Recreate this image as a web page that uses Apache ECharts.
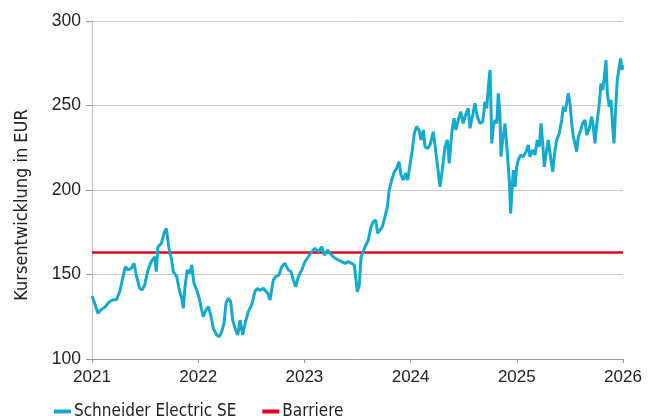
<!DOCTYPE html>
<html>
<head>
<meta charset="utf-8">
<script src="https://cdn.jsdelivr.net/npm/echarts@6/dist/echarts.min.js"></script>
<style>
html,body{margin:0;padding:0;background:#fff;}
#chart{width:657px;height:416px;}
</style>
</head>
<body>
<div id="chart"></div>
<script>
// Decimal years of the sampled points
var years = [
2021.000,2021.025,2021.056,2021.082,2021.120,2021.167,2021.198,2021.229,2021.261,2021.292,
2021.314,2021.339,2021.370,2021.395,2021.417,2021.449,2021.471,2021.496,2021.527,2021.558,
2021.590,2021.605,2021.621,2021.653,2021.678,2021.700,2021.722,2021.747,2021.766,2021.798,
2021.822,2021.845,2021.860,2021.876,2021.897,2021.923,2021.939,2021.960,2021.986,2022.010,
2022.033,2022.048,2022.073,2022.095,2022.118,2022.142,2022.174,2022.199,2022.221,2022.243,
2022.262,2022.283,2022.306,2022.325,2022.347,2022.372,2022.394,2022.419,2022.441,2022.472,
2022.504,2022.535,2022.557,2022.582,2022.613,2022.654,2022.676,2022.707,2022.730,2022.761,
2022.786,2022.817,2022.848,2022.874,2022.895,2022.918,2022.943,2022.975,2023.006,2023.037,
2023.069,2023.100,2023.131,2023.163,2023.187,2023.219,2023.257,2023.288,2023.319,2023.351,
2023.382,2023.413,2023.445,2023.470,2023.486,2023.498,2023.517,2023.533,2023.555,2023.571,
2023.602,2023.627,2023.649,2023.671,2023.690,2023.712,2023.734,2023.759,2023.781,2023.799,
2023.822,2023.847,2023.869,2023.891,2023.910,2023.931,2023.954,2023.973,2023.994,2024.016,
2024.035,2024.057,2024.079,2024.098,2024.120,2024.136,2024.161,2024.183,2024.214,2024.239,
2024.251,2024.277,2024.302,2024.324,2024.346,2024.364,2024.387,2024.409,2024.427,2024.449,
2024.472,2024.496,2024.522,2024.543,2024.559,2024.585,2024.606,2024.628,2024.653,2024.679,
2024.701,2024.717,2024.732,2024.748,2024.757,2024.764,2024.779,2024.795,2024.811,2024.826,
2024.842,2024.851,2024.867,2024.889,2024.911,2024.929,2024.942,2024.955,2024.967,2024.983,
2024.999,2025.014,2025.037,2025.061,2025.087,2025.108,2025.124,2025.150,2025.171,2025.193,
2025.212,2025.228,2025.244,2025.259,2025.281,2025.297,2025.313,2025.338,2025.360,2025.376,
2025.400,2025.423,2025.438,2025.454,2025.470,2025.485,2025.501,2025.517,2025.532,2025.548,
2025.564,2025.579,2025.602,2025.620,2025.642,2025.658,2025.683,2025.705,2025.720,2025.736,
2025.752,2025.774,2025.793,2025.809,2025.821,2025.840,2025.852,2025.871,2025.887,2025.903,
2025.915,2025.927,2025.946,2025.965,2025.978,2025.991,2025.998
];
// Schneider Electric SE price in EUR
var prices = [
137.3,133.0,127.0,129.0,130.6,134.0,135.0,135.0,139.8,148.7,
154.6,152.7,153.7,156.6,149.7,141.8,140.8,143.8,152.7,157.6,
160.5,151.7,166.4,168.4,174.4,177.3,166.4,159.6,151.7,148.7,
140.8,135.9,130.0,142.8,152.7,150.7,155.6,144.8,140.8,135.9,
129.0,125.0,129.0,131.0,126.0,118.2,114.2,113.2,116.2,121.1,
133.0,135.9,133.9,123.0,118.2,114.2,123.0,114.2,121.0,128.0,
132.0,140.0,141.8,140.5,141.8,138.9,134.9,146.7,148.7,149.7,
154.6,156.6,152.7,151.7,146.7,142.8,148.7,152.7,157.6,160.5,
163.5,165.5,163.5,166.4,161.5,164.5,161.5,159.6,158.6,157.6,
156.6,157.6,156.6,155.6,146.7,139.8,143.8,160.5,163.5,166.4,
170.4,178.3,181.2,182.2,174.4,176.3,178.3,184.2,190.1,200.0,
205.9,210.8,212.8,216.7,208.9,205.9,209.9,205.9,214.8,223.7,
233.6,237.5,235.5,229.6,235.5,225.6,224.6,226.6,234.5,221.7,
215.8,201.9,213.7,225.6,229.6,215.8,233.6,242.4,235.5,241.4,
246.3,239.4,245.3,248.3,236.5,244.4,251.3,243.4,239.4,240.4,
252.3,248.3,261.1,271.0,249.3,227.6,237.5,241.4,239.4,257.2,
243.4,219.7,229.6,239.4,221.7,205.9,186.2,200.0,211.8,201.9,
213.7,217.8,220.7,219.7,222.7,226.6,219.7,223.7,220.7,229.6,
225.6,239.4,227.6,213.7,223.7,229.6,221.7,210.8,223.7,229.6,
233.6,241.4,249.3,246.3,251.3,257.2,251.3,239.4,231.5,227.6,
222.7,231.5,235.5,239.4,241.4,232.5,236.5,243.4,237.5,227.6,
238.5,249.3,263.1,259.2,265.1,276.9,257.2,249.3,253.3,237.5,
227.6,243.4,265.1,272.9,277.8,271.0,274.0
];
var barrierYears = [2021, 2026];
var barrierValues = [163, 163];
var xTickLabels = ['2021','2022','2023','2024','2025','2026'];
var yTicks = [100, 150, 200, 250, 300];
var seriesNames = ['Schneider Electric SE', 'Barriere'];
var yTitle = 'Kursentwicklung in EUR';

var stockData = years.map(function (y, i) { return [y, prices[i]]; });
var barrierData = barrierYears.map(function (y, i) { return [y, barrierValues[i]]; });

var chart = echarts.init(document.getElementById('chart'), null, {renderer: 'canvas'});
var numFont = 'Liberation Sans, Arial, sans-serif';
var txtFont = 'DejaVu Sans Condensed, Liberation Sans, sans-serif';
chart.setOption({
  animation: false,
  backgroundColor: '#ffffff',
  grid: {left: 92, right: 34, top: 21, bottom: 57, containLabel: false},
  legend: {
    data: [
      {name: seriesNames[0], icon: 'rect'},
      {name: seriesNames[1], icon: 'rect'}
    ],
    left: 49, top: 398,
    itemWidth: 17, itemHeight: 4, itemGap: 26,
    textStyle: {fontSize: 17, color: '#222', fontFamily: txtFont, padding: [0, 0, 0, -2]}
  },
  graphic: [{
    type: 'text',
    x: 22, y: 205,
    rotation: Math.PI / 2,
    style: {
      text: yTitle, fill: '#222', fontSize: 18, fontFamily: txtFont,
      textAlign: 'center', textVerticalAlign: 'middle'
    }
  }],
  xAxis: {
    type: 'value', min: 2021, max: 2026, interval: 1,
    axisLine: {show: true, lineStyle: {color: '#9a9a9a', width: 1}},
    axisTick: {show: true, length: 4, lineStyle: {color: '#9a9a9a'}},
    splitLine: {show: false},
    axisLabel: {
      fontSize: 17, color: '#222', fontFamily: numFont, margin: 10,
      formatter: function (v) { return xTickLabels[Math.round(v - 2021)] || ''; }
    }
  },
  yAxis: {
    type: 'value', min: yTicks[0], max: yTicks[yTicks.length - 1], interval: 50,
    axisLine: {show: true, lineStyle: {color: '#bdbdbd', width: 1}},
    axisTick: {show: true, length: 6, lineStyle: {color: '#9a9a9a'}},
    splitLine: {show: true, lineStyle: {color: '#c8c8c8', width: 1}},
    axisLabel: {fontSize: 17.5, color: '#222', fontFamily: numFont, margin: 11}
  },
  series: [
    {
      name: seriesNames[0], type: 'line', data: stockData, showSymbol: false, symbol: 'none',
      lineStyle: {color: '#14aacd', width: 3}, itemStyle: {color: '#14aacd'}, z: 3
    },
    {
      name: seriesNames[1], type: 'line', data: barrierData, showSymbol: false, symbol: 'none',
      lineStyle: {color: '#e3001b', width: 2.5}, itemStyle: {color: '#e3001b'}, z: 2
    }
  ]
});
</script>
</body>
</html>
